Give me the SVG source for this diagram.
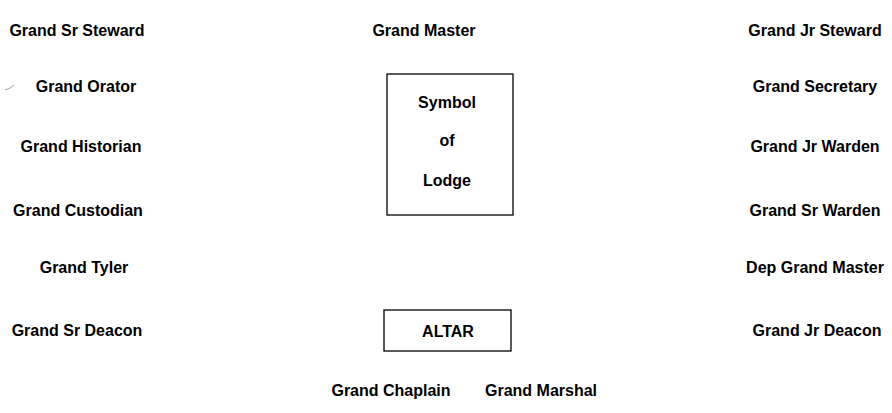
<svg xmlns="http://www.w3.org/2000/svg" width="892" height="413" viewBox="0 0 892 413">
<style>
text{font-family:"Liberation Sans",Arial,Helvetica,sans-serif;font-weight:bold;font-size:16px;fill:#000;text-anchor:middle}
.box{fill:none;stroke:#000;stroke-width:1.3}
</style>
<rect width="892" height="413" fill="#fff"/>
<g id="grand-sr-steward"><text x="77" y="36">Grand Sr Steward</text></g>
<g id="grand-orator"><text x="86" y="92">Grand Orator</text></g>
<path d="M5 90 Q10 89 14 85" fill="none" stroke="#888" stroke-width="0.8"/>
<g id="grand-historian"><text x="81" y="152">Grand Historian</text></g>
<g id="grand-custodian"><text x="78" y="216">Grand Custodian</text></g>
<g id="grand-tyler"><text x="84" y="273">Grand Tyler</text></g>
<g id="grand-sr-deacon"><text x="77" y="336">Grand Sr Deacon</text></g>
<g id="grand-master"><text x="424" y="36">Grand Master</text></g>
<g id="symbol-of-lodge"><rect class="box" x="387" y="74" width="126" height="141"/>
<text x="447" y="108">Symbol</text><text x="447" y="146">of</text><text x="447" y="186">Lodge</text></g>
<g id="altar"><rect class="box" x="384" y="310" width="127" height="41"/><text x="448" y="337">ALTAR</text></g>
<g id="grand-chaplain"><text x="391" y="396">Grand Chaplain</text></g>
<g id="grand-marshal"><text x="541" y="396">Grand Marshal</text></g>
<g id="grand-jr-steward"><text x="815" y="36">Grand Jr Steward</text></g>
<g id="grand-secretary"><text x="815" y="92">Grand Secretary</text></g>
<g id="grand-jr-warden"><text x="815" y="152">Grand Jr Warden</text></g>
<g id="grand-sr-warden"><text x="815" y="216">Grand Sr Warden</text></g>
<g id="dep-grand-master"><text x="815" y="273">Dep Grand Master</text></g>
<g id="grand-jr-deacon"><text x="817" y="336">Grand Jr Deacon</text></g>
<g id="connectors"></g>
</svg>
